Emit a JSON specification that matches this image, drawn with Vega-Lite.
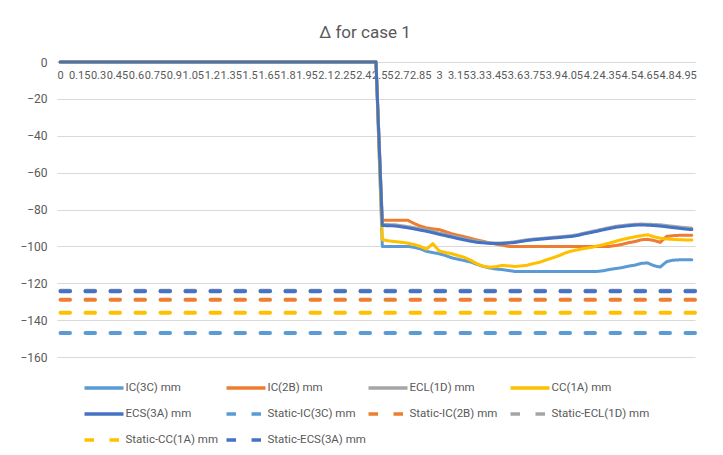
{
  "$schema": "https://vega.github.io/schema/vega-lite/v6.json",
  "width": 638,
  "height": 295,
  "autosize": "none",
  "padding": {"left": 57, "top": 62, "right": 28, "bottom": 98},
  "background": "white",
  "title": {"text": "Δ for case 1", "font": "Roboto", "fontSize": 17, "fontWeight": "normal", "color": "#595959", "anchor": "middle", "dx": -11, "offset": 14},
  "config": {"view": {"stroke": null}, "font": "Roboto"},
  "datasets": {
    "names": [
      {"k": "a", "series": "IC(3C) mm"},
      {"k": "b", "series": "IC(2B) mm"},
      {"k": "c", "series": "ECL(1D) mm"},
      {"k": "d", "series": "CC(1A) mm"},
      {"k": "e", "series": "ECS(3A) mm"}
    ],
    "static": [
      {"series": "Static-IC(3C) mm", "v": -147},
      {"series": "Static-IC(2B) mm", "v": -129},
      {"series": "Static-ECL(1D) mm", "v": -124},
      {"series": "Static-CC(1A) mm", "v": -136},
      {"series": "Static-ECS(3A) mm", "v": -124.4}
    ],
    "main": [
      {"x": 0, "a": 0, "b": 0, "c": 0, "d": 0, "e": 0},
      {"x": 0.05, "a": 0, "b": 0, "c": 0, "d": 0, "e": 0},
      {"x": 0.1, "a": 0, "b": 0, "c": 0, "d": 0, "e": 0},
      {"x": 0.15, "a": 0, "b": 0, "c": 0, "d": 0, "e": 0},
      {"x": 0.2, "a": 0, "b": 0, "c": 0, "d": 0, "e": 0},
      {"x": 0.25, "a": 0, "b": 0, "c": 0, "d": 0, "e": 0},
      {"x": 0.3, "a": 0, "b": 0, "c": 0, "d": 0, "e": 0},
      {"x": 0.35, "a": 0, "b": 0, "c": 0, "d": 0, "e": 0},
      {"x": 0.4, "a": 0, "b": 0, "c": 0, "d": 0, "e": 0},
      {"x": 0.45, "a": 0, "b": 0, "c": 0, "d": 0, "e": 0},
      {"x": 0.5, "a": 0, "b": 0, "c": 0, "d": 0, "e": 0},
      {"x": 0.55, "a": 0, "b": 0, "c": 0, "d": 0, "e": 0},
      {"x": 0.6, "a": 0, "b": 0, "c": 0, "d": 0, "e": 0},
      {"x": 0.65, "a": 0, "b": 0, "c": 0, "d": 0, "e": 0},
      {"x": 0.7, "a": 0, "b": 0, "c": 0, "d": 0, "e": 0},
      {"x": 0.75, "a": 0, "b": 0, "c": 0, "d": 0, "e": 0},
      {"x": 0.8, "a": 0, "b": 0, "c": 0, "d": 0, "e": 0},
      {"x": 0.85, "a": 0, "b": 0, "c": 0, "d": 0, "e": 0},
      {"x": 0.9, "a": 0, "b": 0, "c": 0, "d": 0, "e": 0},
      {"x": 0.95, "a": 0, "b": 0, "c": 0, "d": 0, "e": 0},
      {"x": 1, "a": 0, "b": 0, "c": 0, "d": 0, "e": 0},
      {"x": 1.05, "a": 0, "b": 0, "c": 0, "d": 0, "e": 0},
      {"x": 1.1, "a": 0, "b": 0, "c": 0, "d": 0, "e": 0},
      {"x": 1.15, "a": 0, "b": 0, "c": 0, "d": 0, "e": 0},
      {"x": 1.2, "a": 0, "b": 0, "c": 0, "d": 0, "e": 0},
      {"x": 1.25, "a": 0, "b": 0, "c": 0, "d": 0, "e": 0},
      {"x": 1.3, "a": 0, "b": 0, "c": 0, "d": 0, "e": 0},
      {"x": 1.35, "a": 0, "b": 0, "c": 0, "d": 0, "e": 0},
      {"x": 1.4, "a": 0, "b": 0, "c": 0, "d": 0, "e": 0},
      {"x": 1.45, "a": 0, "b": 0, "c": 0, "d": 0, "e": 0},
      {"x": 1.5, "a": 0, "b": 0, "c": 0, "d": 0, "e": 0},
      {"x": 1.55, "a": 0, "b": 0, "c": 0, "d": 0, "e": 0},
      {"x": 1.6, "a": 0, "b": 0, "c": 0, "d": 0, "e": 0},
      {"x": 1.65, "a": 0, "b": 0, "c": 0, "d": 0, "e": 0},
      {"x": 1.7, "a": 0, "b": 0, "c": 0, "d": 0, "e": 0},
      {"x": 1.75, "a": 0, "b": 0, "c": 0, "d": 0, "e": 0},
      {"x": 1.8, "a": 0, "b": 0, "c": 0, "d": 0, "e": 0},
      {"x": 1.85, "a": 0, "b": 0, "c": 0, "d": 0, "e": 0},
      {"x": 1.9, "a": 0, "b": 0, "c": 0, "d": 0, "e": 0},
      {"x": 1.95, "a": 0, "b": 0, "c": 0, "d": 0, "e": 0},
      {"x": 2, "a": 0, "b": 0, "c": 0, "d": 0, "e": 0},
      {"x": 2.05, "a": 0, "b": 0, "c": 0, "d": 0, "e": 0},
      {"x": 2.1, "a": 0, "b": 0, "c": 0, "d": 0, "e": 0},
      {"x": 2.15, "a": 0, "b": 0, "c": 0, "d": 0, "e": 0},
      {"x": 2.2, "a": 0, "b": 0, "c": 0, "d": 0, "e": 0},
      {"x": 2.25, "a": 0, "b": 0, "c": 0, "d": 0, "e": 0},
      {"x": 2.3, "a": 0, "b": 0, "c": 0, "d": 0, "e": 0},
      {"x": 2.35, "a": 0, "b": 0, "c": 0, "d": 0, "e": 0},
      {"x": 2.4, "a": 0, "b": 0, "c": 0, "d": 0, "e": 0},
      {"x": 2.45, "a": 0, "b": 0, "c": 0, "d": 0, "e": 0},
      {"x": 2.5, "a": 0, "b": 0, "c": 0, "d": 0, "e": 0},
      {"x": 2.55, "a": -100, "b": -85.8, "c": -88.1, "d": -96.4, "e": -88.7},
      {"x": 2.6, "a": -100, "b": -85.8, "c": -88.2, "d": -97, "e": -88.8},
      {"x": 2.65, "a": -100, "b": -85.8, "c": -88.3, "d": -97.4, "e": -88.9},
      {"x": 2.7, "a": -100, "b": -85.8, "c": -88.8, "d": -97.8, "e": -89.4},
      {"x": 2.75, "a": -100, "b": -85.8, "c": -89.3, "d": -98.2, "e": -89.9},
      {"x": 2.8, "a": -100.5, "b": -87.5, "c": -89.8, "d": -99, "e": -90.5},
      {"x": 2.85, "a": -101.3, "b": -89, "c": -90.5, "d": -100, "e": -91.2},
      {"x": 2.9, "a": -102.7, "b": -90, "c": -91.1, "d": -101.5, "e": -91.8},
      {"x": 2.95, "a": -103.4, "b": -90.5, "c": -91.9, "d": -98.5, "e": -92.6},
      {"x": 3, "a": -104, "b": -90.9, "c": -92.8, "d": -102.5, "e": -93.5},
      {"x": 3.05, "a": -105, "b": -92, "c": -93.5, "d": -103.3, "e": -94.2},
      {"x": 3.1, "a": -106.2, "b": -93.2, "c": -94.3, "d": -104, "e": -95},
      {"x": 3.15, "a": -107, "b": -94, "c": -95.1, "d": -105, "e": -95.8},
      {"x": 3.2, "a": -107.7, "b": -94.8, "c": -95.9, "d": -106, "e": -96.5},
      {"x": 3.25, "a": -108.5, "b": -95.7, "c": -96.6, "d": -107.5, "e": -97.2},
      {"x": 3.3, "a": -109.8, "b": -96.6, "c": -97.3, "d": -109.5, "e": -97.8},
      {"x": 3.35, "a": -110.9, "b": -97.3, "c": -97.7, "d": -110.8, "e": -98.1},
      {"x": 3.4, "a": -111.7, "b": -98.1, "c": -98, "d": -111.3, "e": -98.4},
      {"x": 3.45, "a": -112.3, "b": -98.8, "c": -98.2, "d": -111, "e": -98.5},
      {"x": 3.5, "a": -112.6, "b": -99.4, "c": -98.1, "d": -110.3, "e": -98.4},
      {"x": 3.55, "a": -113.1, "b": -100, "c": -97.9, "d": -110.6, "e": -98.2},
      {"x": 3.6, "a": -113.6, "b": -100, "c": -97.5, "d": -110.9, "e": -97.9},
      {"x": 3.65, "a": -113.6, "b": -100, "c": -96.9, "d": -110.6, "e": -97.3},
      {"x": 3.7, "a": -113.6, "b": -100, "c": -96.4, "d": -110.2, "e": -96.8},
      {"x": 3.75, "a": -113.6, "b": -100, "c": -96, "d": -109.3, "e": -96.4},
      {"x": 3.8, "a": -113.6, "b": -100, "c": -95.7, "d": -108.5, "e": -96.1},
      {"x": 3.85, "a": -113.6, "b": -100, "c": -95.4, "d": -107.3, "e": -95.8},
      {"x": 3.9, "a": -113.6, "b": -100, "c": -95.1, "d": -106.2, "e": -95.5},
      {"x": 3.95, "a": -113.6, "b": -100, "c": -94.8, "d": -105, "e": -95.2},
      {"x": 4, "a": -113.6, "b": -100, "c": -94.5, "d": -103.5, "e": -94.9},
      {"x": 4.05, "a": -113.6, "b": -100, "c": -94.2, "d": -102.5, "e": -94.6},
      {"x": 4.1, "a": -113.6, "b": -100, "c": -93.6, "d": -101.8, "e": -94},
      {"x": 4.15, "a": -113.6, "b": -100, "c": -92.8, "d": -101.1, "e": -93.2},
      {"x": 4.2, "a": -113.6, "b": -100, "c": -92, "d": -100.6, "e": -92.5},
      {"x": 4.25, "a": -113.6, "b": -100, "c": -91.3, "d": -99.8, "e": -91.8},
      {"x": 4.3, "a": -113.2, "b": -100, "c": -90.5, "d": -99.1, "e": -91},
      {"x": 4.35, "a": -112.5, "b": -100, "c": -89.8, "d": -98.2, "e": -90.3},
      {"x": 4.4, "a": -112, "b": -99.5, "c": -89.1, "d": -97.2, "e": -89.6},
      {"x": 4.45, "a": -111.5, "b": -98.9, "c": -88.7, "d": -96.3, "e": -89.2},
      {"x": 4.5, "a": -110.7, "b": -98, "c": -88.3, "d": -95.5, "e": -88.8},
      {"x": 4.55, "a": -110.2, "b": -97.4, "c": -88, "d": -94.8, "e": -88.5},
      {"x": 4.6, "a": -109.2, "b": -96.4, "c": -87.9, "d": -94.2, "e": -88.4},
      {"x": 4.65, "a": -109, "b": -96.2, "c": -88, "d": -93.7, "e": -88.5},
      {"x": 4.7, "a": -110.5, "b": -96.8, "c": -88.1, "d": -94.8, "e": -88.7},
      {"x": 4.75, "a": -111.2, "b": -97.8, "c": -88.3, "d": -95.6, "e": -89},
      {"x": 4.8, "a": -108.3, "b": -94.6, "c": -88.7, "d": -96, "e": -89.4},
      {"x": 4.85, "a": -107.5, "b": -94.2, "c": -89.1, "d": -96.2, "e": -89.8},
      {"x": 4.9, "a": -107.3, "b": -94, "c": -89.5, "d": -96.4, "e": -90.2},
      {"x": 4.95, "a": -107.3, "b": -94, "c": -89.8, "d": -96.5, "e": -90.6},
      {"x": 5, "a": -107.3, "b": -94, "c": -90.1, "d": -96.6, "e": -90.9}
    ]
  },
  "layer": [
    {
      "data": {"name": "main"},
      "transform": [
        {"fold": ["a", "b", "c", "d", "e"], "as": ["k", "v"]},
        {"lookup": "k", "from": {"data": {"name": "names"}, "key": "k", "fields": ["series"]}}
      ],
      "mark": {"type": "line", "strokeWidth": 3, "strokeJoin": "round", "strokeCap": "round"},
      "encoding": {
        "x": {
          "field": "x", "type": "quantitative",
          "scale": {"domain": [-0.025, 5.025], "nice": false, "zero": false},
          "axis": {
            "orient": "bottom", "offset": -295, "title": null,
            "values": [0, 0.15, 0.3, 0.45, 0.6, 0.75, 0.9, 1.05, 1.2, 1.35, 1.5, 1.65, 1.8, 1.95, 2.1, 2.25, 2.4, 2.55, 2.7, 2.85, 3, 3.15, 3.3, 3.45, 3.6, 3.75, 3.9, 4.05, 4.2, 4.35, 4.5, 4.65, 4.8, 4.95],
            "labelExpr": "'' + datum.value",
            "labelOverlap": false, "labelFlush": false, "labelBound": false,
            "labelFont": "Roboto", "labelFontSize": 11, "labelColor": "#595959", "labelPadding": 7,
            "ticks": false, "grid": false, "domainColor": "#D9D9D9", "domainWidth": 1
          }
        },
        "y": {
          "field": "v", "type": "quantitative",
          "scale": {"domain": [-160, 0], "nice": false},
          "axis": {
            "title": null, "values": [0, -20, -40, -60, -80, -100, -120, -140, -160],
            "labelOverlap": false, "labelFlush": false, "labelBound": false,
            "domain": false, "ticks": false, "grid": true, "gridColor": "#D9D9D9", "gridWidth": 1,
            "labelFont": "Roboto", "labelFontSize": 12, "labelColor": "#595959", "labelPadding": 10
          }
        },
        "color": {
          "field": "series", "type": "nominal",
          "scale": {
            "domain": ["IC(3C) mm", "IC(2B) mm", "ECL(1D) mm", "CC(1A) mm", "ECS(3A) mm", "Static-IC(3C) mm", "Static-IC(2B) mm", "Static-ECL(1D) mm", "Static-CC(1A) mm", "Static-ECS(3A) mm"],
            "range": ["#5B9BD5", "#ED7D31", "#A5A5A5", "#FFC000", "#4472C4", "#5B9BD5", "#ED7D31", "#A5A5A5", "#FFC000", "#4472C4"]
          },
          "legend": {
            "title": null, "orient": "none", "direction": "horizontal", "legendX": 25.5, "legendY": 318, "columns": 4,
            "gridAlign": "all", "columnPadding": -1, "rowPadding": 10, "clipHeight": 16, "padding": 0,
            "symbolType": "stroke", "symbolSize": 1521, "symbolStrokeWidth": 3.5,
            "labelFont": "Roboto", "labelFontSize": 11.5, "labelColor": "#595959", "labelOffset": 0, "labelLimit": 0
          }
        },
        "strokeDash": {
          "field": "series", "type": "nominal",
          "scale": {
            "domain": ["IC(3C) mm", "IC(2B) mm", "ECL(1D) mm", "CC(1A) mm", "ECS(3A) mm", "Static-IC(3C) mm", "Static-IC(2B) mm", "Static-ECL(1D) mm", "Static-CC(1A) mm", "Static-ECS(3A) mm"],
            "range": [[1, 0], [1, 0], [1, 0], [1, 0], [1, 0], [9.5, 15.5], [9.5, 15.5], [9.5, 15.5], [9.5, 15.5], [9.5, 15.5]]
          },
          "legend": {
            "title": null, "orient": "none", "direction": "horizontal", "legendX": 25.5, "legendY": 318, "columns": 4,
            "gridAlign": "all", "columnPadding": -1, "rowPadding": 10, "clipHeight": 16, "padding": 0,
            "symbolType": "stroke", "symbolSize": 1521, "symbolStrokeWidth": 3.5,
            "labelFont": "Roboto", "labelFontSize": 11.5, "labelColor": "#595959", "labelOffset": 0, "labelLimit": 0
          }
        }
      }
    },
    {
      "data": {"name": "static"},
      "mark": {"type": "rule", "strokeWidth": 4, "strokeCap": "round"},
      "encoding": {
        "y": {
          "field": "v", "type": "quantitative",
          "axis": {
            "title": null, "values": [0, -20, -40, -60, -80, -100, -120, -140, -160],
            "labelOverlap": false, "labelFlush": false, "labelBound": false,
            "domain": false, "ticks": false, "grid": true, "gridColor": "#D9D9D9", "gridWidth": 1,
            "labelFont": "Roboto", "labelFontSize": 12, "labelColor": "#595959", "labelPadding": 10
          }
        },
        "color": {"field": "series", "type": "nominal"},
        "strokeDash": {"field": "series", "type": "nominal"}
      }
    }
  ]
}
